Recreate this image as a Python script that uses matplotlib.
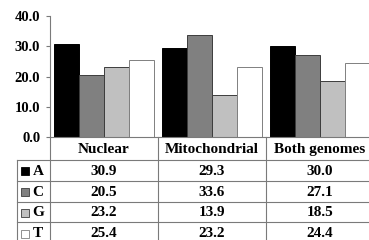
import matplotlib
matplotlib.use('Agg')
import matplotlib.pyplot as plt
from matplotlib.patches import Rectangle
import numpy as np

genomes = ['Nuclear', 'Mitochondrial', 'Both genomes']
bases = ['A', 'C', 'G', 'T']
pct_A = [30.9, 29.3, 30.0]
pct_C = [20.5, 33.6, 27.1]
pct_G = [23.2, 13.9, 18.5]
pct_T = [25.4, 23.2, 24.4]
yticks = [0, 10, 20, 30, 40]

series = [pct_A, pct_C, pct_G, pct_T]
colors = ['#000000', '#808080', '#c0c0c0', '#ffffff']
edges = ['#000000', '#3c3c3c', '#3c3c3c', '#808080']
line_col = '#7a7a7a'
font = dict(family='Liberation Serif', weight='bold', color='black')

W, H = 369, 240
fig = plt.figure(figsize=(W / 100, H / 100), dpi=100)
fig.patch.set_facecolor('white')


def fx(px):
    return px / W


def fy(py):
    return 1 - py / H


# plot area in pixels (it runs past the right edge, as in the original)
left, right, top, bottom = 50, 374, 16, 137
ax = fig.add_axes([fx(left), fy(bottom), (right - left) / W, (bottom - top) / H])

x = np.arange(len(genomes))
bw = 25 / 108
for i, vals in enumerate(series):
    ax.bar(x + (i - 1.5) * bw, vals, width=bw, color=colors[i],
           edgecolor=edges[i], linewidth=0.7, zorder=2)

ax.set_xlim(-0.5, len(genomes) - 0.5)
ax.set_ylim(0, 40)
ax.set_yticks(yticks)
ax.set_yticklabels(['%.1f' % v for v in yticks], fontsize=10.5, **font)
ax.set_xticks([])
ax.tick_params(axis='y', length=3, width=0.8, color=line_col, pad=4)
for s in ['top', 'right']:
    ax.spines[s].set_visible(False)
ax.spines['left'].set_color(line_col)
ax.spines['bottom'].set_color(line_col)
ax.spines['left'].set_linewidth(0.8)
ax.spines['bottom'].set_linewidth(0.8)

# data table below the plot, drawn in pixel units
tl, tb = 17, 243
tx = fig.add_axes([fx(tl), fy(tb), (right - tl) / W, (tb - bottom) / H])
tx.set_xlim(tl, right)
tx.set_ylim(tb, bottom)
tx.axis('off')

col_w = (right - left) / len(genomes)
col_edges = [left + col_w * i for i in range(len(genomes) + 1)]
row_h = (tb - 160) / len(bases)
row_edges = [bottom, 160] + [160 + row_h * (i + 1) for i in range(len(bases))]

lw = 0.8
# horizontal lines
for y in row_edges[1:]:
    tx.plot([tl, right], [y, y], color=line_col, lw=lw, clip_on=False)
# vertical lines
tx.plot([tl, tl], [160, tb], color=line_col, lw=lw, clip_on=False)
for xe in col_edges:
    tx.plot([xe, xe], [bottom, tb], color=line_col, lw=lw, clip_on=False)

# header
for j, g in enumerate(genomes):
    tx.text((col_edges[j] + col_edges[j + 1]) / 2, (row_edges[0] + row_edges[1]) / 2 + 1,
            g, ha='center', va='center', fontsize=11, **font)

# rows
for i, b in enumerate(bases):
    yc = (row_edges[i + 1] + row_edges[i + 2]) / 2 + 1
    tx.add_patch(Rectangle((21, yc - 4), 8, 8, facecolor=colors[i],
                           edgecolor=edges[i], linewidth=0.6))
    tx.text(32.5, yc, b, ha='left', va='center', fontsize=11, **font)
    for j in range(len(genomes)):
        tx.text((col_edges[j] + col_edges[j + 1]) / 2, yc, '%.1f' % series[i][j],
                ha='center', va='center', fontsize=11, **font)

fig.savefig('out.png', dpi=100, facecolor='white')
